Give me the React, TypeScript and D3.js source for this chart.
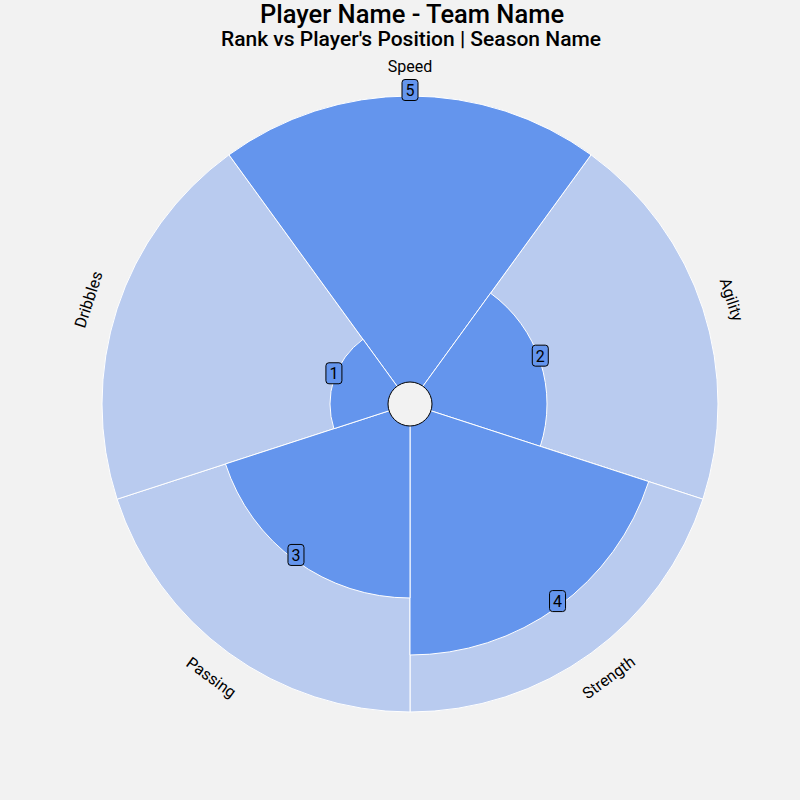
import React from "react";
import * as d3 from "d3";

const categories = ["Speed", "Agility", "Strength", "Passing", "Dribbles"];
const ranks = [5, 2, 4, 3, 1];
const maxRank = 5;

const W = 800, H = 800;
const cx = 410, cy = 404;
const inner = 23, outer = 308;
const dark = "#6495ED";
const light = "#b9cbef";
const bg = "#f2f2f2";
const font = "Roboto, sans-serif";

export default function App() {
  const n = categories.length;
  const step = (2 * Math.PI) / n;
  const r = d3.scaleLinear().domain([0, maxRank]).range([inner, outer]);
  const arc = d3.arc<any>();
  const toDeg = (a: number) => (a * 180) / Math.PI;

  return (
    <svg width={W} height={H} style={{ display: "block", position: "absolute", left: 0, top: 0, background: bg }}>
      <rect width={W} height={H} fill={bg} />
      <text x={412} y={23} textAnchor="middle" fontFamily={font} fontSize={25.5} fontWeight={500} fill="#000">Player Name - Team Name</text>
      <text x={411} y={46} textAnchor="middle" fontFamily={font} fontSize={21} fontWeight={500} fill="#000">Rank vs Player's Position | Season Name</text>
      <g transform={`translate(${cx},${cy})`}>
        {categories.map((c, i) => {
          const a0 = i * step - step / 2, a1 = i * step + step / 2;
          return (
            <path key={"bg" + c} d={arc({ innerRadius: 0, outerRadius: outer, startAngle: a0, endAngle: a1 }) as string} fill={light} stroke="#fff" strokeWidth={1} />
          );
        })}
        {categories.map((c, i) => {
          const a0 = i * step - step / 2, a1 = i * step + step / 2;
          return (
            <path key={"v" + c} d={arc({ innerRadius: 0, outerRadius: r(ranks[i]), startAngle: a0, endAngle: a1 }) as string} fill={dark} stroke="#fff" strokeWidth={1} />
          );
        })}
        <circle r={22} fill={bg} stroke="#000" strokeWidth={1} />
        {categories.map((c, i) => {
          const a = i * step;
          const rr = r(ranks[i]);
          const x = rr * Math.sin(a), y = -rr * Math.cos(a) - 6;
          return (
            <g key={"lab" + c} transform={`translate(${x},${y})`}>
              <rect x={-8} y={-10.5} width={16} height={21} rx={3} fill={dark} stroke="#000" strokeWidth={1} />
              <text x={0} y={6} textAnchor="middle" fontFamily={font} fontSize={16} fill="#000">{ranks[i]}</text>
            </g>
          );
        })}
        {categories.map((c, i) => {
          const a = i * step;
          const deg = toDeg(a);
          const rr = 338;
          const x = rr * Math.sin(a), y = -rr * Math.cos(a);
          const rot = deg > 90 && deg < 270 ? deg - 180 : deg;
          return (
            <text key={"cat" + c} transform={`translate(${x},${y}) rotate(${rot})`} textAnchor="middle" dominantBaseline="central" fontFamily={font} fontSize={16} fill="#000">{c}</text>
          );
        })}
      </g>
    </svg>
  );
}
